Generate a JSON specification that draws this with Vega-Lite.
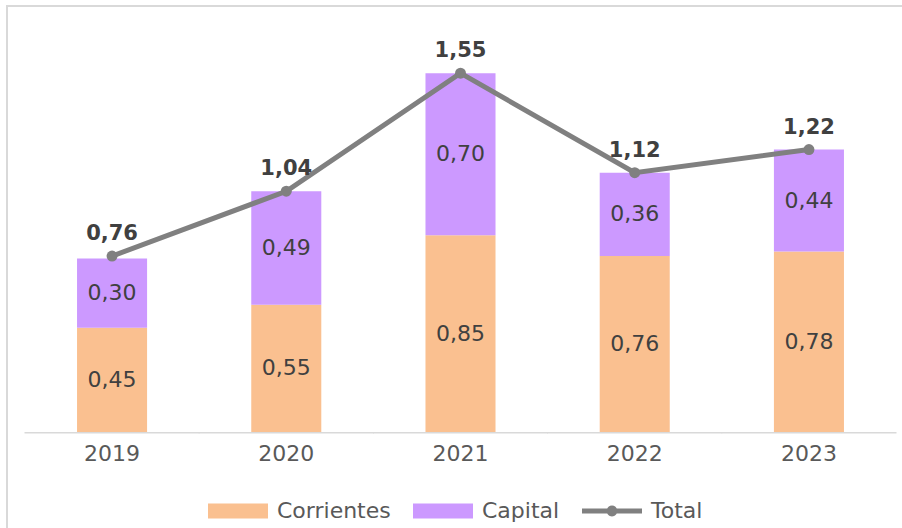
{
  "$schema": "https://vega.github.io/schema/vega-lite/v6.json",
  "width": 907,
  "height": 537,
  "autosize": {"type": "none"},
  "padding": {"left": 7, "top": 6, "right": -12, "bottom": -15},
  "config": {
    "view": {"stroke": "#D9D9D9", "strokeWidth": 2},
    "font": "DejaVu Sans",
    "locale": {"number": {"decimal": ",", "thousands": ".", "grouping": [3], "currency": ["", " €"]}}
  },
  "datasets": {
    "segmentos": [
      {"anio": "2019", "serie": "Corrientes", "valor": 0.45},
      {"anio": "2019", "serie": "Capital", "valor": 0.30},
      {"anio": "2020", "serie": "Corrientes", "valor": 0.55},
      {"anio": "2020", "serie": "Capital", "valor": 0.49},
      {"anio": "2021", "serie": "Corrientes", "valor": 0.85},
      {"anio": "2021", "serie": "Capital", "valor": 0.70},
      {"anio": "2022", "serie": "Corrientes", "valor": 0.76},
      {"anio": "2022", "serie": "Capital", "valor": 0.36},
      {"anio": "2023", "serie": "Corrientes", "valor": 0.78},
      {"anio": "2023", "serie": "Capital", "valor": 0.44}
    ],
    "totales": [
      {"anio": "2019", "total": 0.76},
      {"anio": "2020", "total": 1.04},
      {"anio": "2021", "total": 1.55},
      {"anio": "2022", "total": 1.12},
      {"anio": "2023", "total": 1.22}
    ]
  },
  "encoding": {
    "x": {
      "field": "anio",
      "type": "nominal",
      "sort": null,
      "scale": {"paddingInner": 0.598, "paddingOuter": 0.402},
      "axis": {
        "title": null,
        "offset": -111,
        "domain": false,
        "ticks": false,
        "grid": false,
        "labelAngle": 0,
        "labelPadding": 11,
        "labelFontSize": 22,
        "labelColor": "#595959",
        "labelFont": "DejaVu Sans"
      }
    }
  },
  "layer": [
    {
      "data": {"name": "totales"},
      "mark": {"type": "bar", "color": "#D9D9D9", "width": {"band": 2.5}},
      "encoding": {
        "y": {"datum": 0, "type": "quantitative", "scale": {"domain": [-0.4795, 1.8402], "nice": false, "zero": false}, "axis": null},
        "y2": {"datum": -0.0065}
      }
    },
    {
      "data": {"name": "segmentos"},
      "transform": [
        {"stack": "valor", "groupby": ["anio"], "sort": [{"field": "serie", "order": "descending"}], "as": ["v0", "v1"]},
        {"calculate": "(datum.v0 + datum.v1) / 2", "as": "vm"}
      ],
      "layer": [
        {
          "mark": {"type": "bar"},
          "encoding": {
            "y": {"field": "v0", "type": "quantitative", "scale": {"domain": [-0.4795, 1.8402], "nice": false, "zero": false}, "axis": null},
            "y2": {"field": "v1"},
            "color": {
              "field": "serie",
              "type": "nominal",
              "scale": {"domain": ["Corrientes", "Capital", "Total"], "range": ["#FAC090", "#CC99FF", "#808080"]},
              "legend": {
                "orient": "none",
                "legendX": 201,
                "legendY": 475,
                "direction": "horizontal",
                "title": null,
                "padding": 0,
                "symbolSize": 3600,
                "labelOffset": 9,
                "columnPadding": 22,
                "labelFontSize": 22,
                "labelColor": "#595959",
                "labelFont": "DejaVu Sans",
                "encode": {
                  "symbols": {
                    "update": {
                      "shape": {"signal": "datum.value === 'Total' ? 'M-1,-0.085H1V0.085H-1Z M0.18,0A0.18,0.18 0 1,1 -0.18,0A0.18,0.18 0 1,1 0.18,0Z' : 'M-1,-0.25H1V0.25H-1Z'"},
                      "fill": {"signal": "scale('color', datum.value)"},
                      "stroke": {"value": "transparent"},
                      "strokeWidth": {"value": 0},
                      "opacity": {"value": 1},
                      "fillOpacity": {"value": 1}
                    }
                  }
                }
              }
            }
          }
        },
        {
          "mark": {"type": "text", "baseline": "middle", "fontSize": 22, "color": "#404040", "font": "DejaVu Sans"},
          "encoding": {
            "y": {"field": "vm", "type": "quantitative"},
            "text": {"field": "valor", "type": "quantitative", "format": ".2f"}
          }
        }
      ]
    },
    {
      "data": {"name": "totales"},
      "mark": {"type": "line", "strokeWidth": 5, "point": {"filled": true, "size": 120, "opacity": 1}},
      "encoding": {
        "y": {"field": "total", "type": "quantitative"},
        "color": {"datum": "Total"}
      }
    },
    {
      "data": {"name": "totales"},
      "mark": {"type": "text", "baseline": "alphabetic", "dy": -16, "fontSize": 21, "fontWeight": "bold", "color": "#404040", "font": "DejaVu Sans"},
      "encoding": {
        "y": {"field": "total", "type": "quantitative"},
        "text": {"field": "total", "type": "quantitative", "format": ".2f"}
      }
    }
  ]
}
